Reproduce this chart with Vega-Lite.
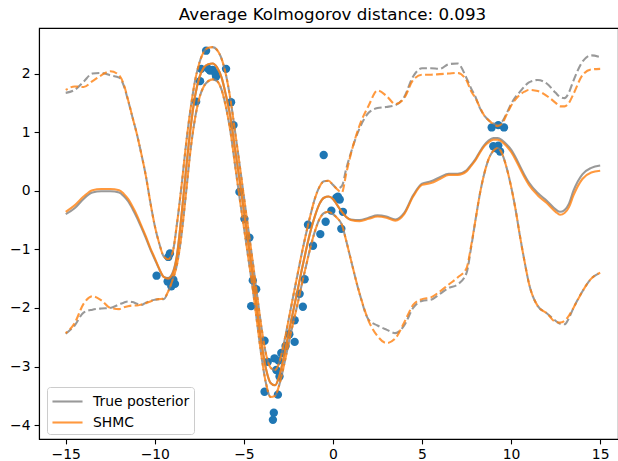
{
  "$schema": "https://vega.github.io/schema/vega-lite/v6.json",
  "autosize": "none",
  "padding": {"left": 39, "top": 28, "right": 0, "bottom": 22},
  "width": 579,
  "height": 411,
  "title": {"text": "Average Kolmogorov distance: 0.093", "font": "DejaVu Sans", "fontSize": 16.7, "fontWeight": "normal", "color": "black", "anchor": "middle", "dx": 4, "offset": -9, "baseline": "alphabetic"},
  "config": {
    "view": {"stroke": "black", "strokeWidth": 1.1},
    "axis": {"grid": false, "domainColor": "black", "domainWidth": 1.1, "tickColor": "black", "tickWidth": 1.1, "tickSize": 4.9, "labelFont": "DejaVu Sans", "labelFontSize": 13.9, "labelColor": "black", "labelPadding": 4, "title": null},
    "legend": {"orient": "none", "legendX": 8, "legendY": 359, "symbolType": "M-1.67,0H1.67", "symbolSize": 324, "symbolStrokeWidth": 2.08, "symbolOpacity": 0.8, "symbolOffset": 6, "labelFont": "DejaVu Sans", "labelFontSize": 13.9, "labelColor": "black", "strokeColor": "#cccccc", "fillColor": "rgba(255,255,255,0.8)", "cornerRadius": 3, "padding": 4, "labelOffset": 15, "rowPadding": 3, "title": null}
  },
  "datasets": {
    "curves": [
      {"x": -15, "tm": -0.40, "tl": -2.44, "tu": 1.67, "sm": -0.36, "sl": -2.43, "su": 1.72},
      {"x": -14.5, "tm": -0.30, "tl": -2.30, "tu": 1.72, "sm": -0.25, "sl": -2.26, "su": 1.78},
      {"x": -14, "tm": -0.14, "tl": -2.08, "tu": 1.86, "sm": -0.10, "sl": -1.93, "su": 1.77},
      {"x": -13.5, "tm": -0.03, "tl": -2.03, "tu": 2.00, "sm": 0.01, "sl": -1.80, "su": 1.87},
      {"x": -13, "tm": -0.01, "tl": -2.01, "tu": 2.01, "sm": 0.03, "sl": -1.87, "su": 1.97},
      {"x": -12.5, "tm": -0.01, "tl": -2.00, "tu": 1.97, "sm": 0.03, "sl": -2.00, "su": 2.04},
      {"x": -12, "tm": -0.03, "tl": -1.94, "tu": 1.93, "sm": 0.01, "sl": -2.02, "su": 1.97},
      {"x": -11.75, "tm": -0.09, "tl": -1.91, "tu": 1.80, "sm": -0.05, "sl": -1.99, "su": 1.82},
      {"x": -11.5, "tm": -0.18, "tl": -1.89, "tu": 1.54, "sm": -0.14, "sl": -1.97, "su": 1.55},
      {"x": -11.25, "tm": -0.31, "tl": -1.90, "tu": 1.25, "sm": -0.27, "sl": -1.96, "su": 1.25},
      {"x": -11, "tm": -0.46, "tl": -1.93, "tu": 0.96, "sm": -0.42, "sl": -1.96, "su": 0.96},
      {"x": -10.75, "tm": -0.63, "tl": -1.95, "tu": 0.62, "sm": -0.60, "sl": -1.94, "su": 0.62},
      {"x": -10.5, "tm": -0.81, "tl": -1.91, "tu": 0.25, "sm": -0.78, "sl": -1.92, "su": 0.25},
      {"x": -10.25, "tm": -1.00, "tl": -1.88, "tu": -0.20, "sm": -0.98, "sl": -1.89, "su": -0.20},
      {"x": -10, "tm": -1.17, "tl": -1.86, "tu": -0.60, "sm": -1.15, "sl": -1.86, "su": -0.60},
      {"x": -9.75, "tm": -1.34, "tl": -1.85, "tu": -0.90, "sm": -1.33, "sl": -1.85, "su": -0.90},
      {"x": -9.5, "tm": -1.47, "tl": -1.85, "tu": -1.12, "sm": -1.47, "sl": -1.84, "su": -1.12},
      {"x": -9.25, "tm": -1.49, "tl": -1.72, "tu": -1.17, "sm": -1.50, "sl": -1.72, "su": -1.17},
      {"x": -9, "tm": -1.40, "tl": -1.52, "tu": -1.05, "sm": -1.42, "sl": -1.52, "su": -1.05},
      {"x": -8.75, "tm": -1.08, "tl": -1.25, "tu": -0.55, "sm": -1.10, "sl": -1.25, "su": -0.55},
      {"x": -8.5, "tm": -0.42, "tl": -0.75, "tu": 0.08, "sm": -0.42, "sl": -0.75, "su": 0.08},
      {"x": -8.25, "tm": 0.35, "tl": -0.05, "tu": 0.78, "sm": 0.35, "sl": -0.05, "su": 0.78},
      {"x": -8, "tm": 1.05, "tl": 0.68, "tu": 1.38, "sm": 1.05, "sl": 0.68, "su": 1.38},
      {"x": -7.75, "tm": 1.60, "tl": 1.22, "tu": 1.86, "sm": 1.60, "sl": 1.22, "su": 1.86},
      {"x": -7.5, "tm": 1.93, "tl": 1.58, "tu": 2.18, "sm": 1.93, "sl": 1.58, "su": 2.18},
      {"x": -7.25, "tm": 2.10, "tl": 1.78, "tu": 2.37, "sm": 2.10, "sl": 1.78, "su": 2.37},
      {"x": -7, "tm": 2.16, "tl": 1.87, "tu": 2.44, "sm": 2.16, "sl": 1.87, "su": 2.44},
      {"x": -6.75, "tm": 2.17, "tl": 1.90, "tu": 2.45, "sm": 2.17, "sl": 1.90, "su": 2.45},
      {"x": -6.5, "tm": 2.10, "tl": 1.87, "tu": 2.40, "sm": 2.10, "sl": 1.87, "su": 2.40},
      {"x": -6.25, "tm": 1.93, "tl": 1.72, "tu": 2.25, "sm": 1.93, "sl": 1.72, "su": 2.25},
      {"x": -6, "tm": 1.62, "tl": 1.42, "tu": 1.97, "sm": 1.62, "sl": 1.42, "su": 1.97},
      {"x": -5.75, "tm": 1.25, "tl": 1.00, "tu": 1.55, "sm": 1.25, "sl": 1.00, "su": 1.55},
      {"x": -5.5, "tm": 0.72, "tl": 0.45, "tu": 1.02, "sm": 0.72, "sl": 0.45, "su": 1.02},
      {"x": -5.25, "tm": 0.20, "tl": -0.10, "tu": 0.47, "sm": 0.20, "sl": -0.10, "su": 0.47},
      {"x": -5, "tm": -0.35, "tl": -0.62, "tu": -0.10, "sm": -0.35, "sl": -0.62, "su": -0.10},
      {"x": -4.75, "tm": -0.90, "tl": -1.15, "tu": -0.66, "sm": -0.90, "sl": -1.15, "su": -0.66},
      {"x": -4.5, "tm": -1.45, "tl": -1.68, "tu": -1.22, "sm": -1.45, "sl": -1.68, "su": -1.22},
      {"x": -4.25, "tm": -2.05, "tl": -2.27, "tu": -1.80, "sm": -2.05, "sl": -2.27, "su": -1.80},
      {"x": -4, "tm": -2.62, "tl": -2.85, "tu": -2.36, "sm": -2.62, "sl": -2.85, "su": -2.36},
      {"x": -3.75, "tm": -3.05, "tl": -3.30, "tu": -2.80, "sm": -3.05, "sl": -3.30, "su": -2.80},
      {"x": -3.5, "tm": -3.28, "tl": -3.52, "tu": -3.02, "sm": -3.28, "sl": -3.52, "su": -3.02},
      {"x": -3.25, "tm": -3.32, "tl": -3.50, "tu": -3.06, "sm": -3.32, "sl": -3.50, "su": -3.06},
      {"x": -3, "tm": -3.15, "tl": -3.30, "tu": -2.92, "sm": -3.15, "sl": -3.30, "su": -2.92},
      {"x": -2.75, "tm": -2.82, "tl": -2.98, "tu": -2.60, "sm": -2.82, "sl": -2.98, "su": -2.60},
      {"x": -2.5, "tm": -2.45, "tl": -2.62, "tu": -2.22, "sm": -2.45, "sl": -2.62, "su": -2.22},
      {"x": -2.25, "tm": -2.08, "tl": -2.28, "tu": -1.83, "sm": -2.08, "sl": -2.28, "su": -1.83},
      {"x": -2, "tm": -1.72, "tl": -1.95, "tu": -1.45, "sm": -1.72, "sl": -1.95, "su": -1.45},
      {"x": -1.75, "tm": -1.35, "tl": -1.60, "tu": -1.07, "sm": -1.35, "sl": -1.60, "su": -1.07},
      {"x": -1.5, "tm": -1.00, "tl": -1.27, "tu": -0.72, "sm": -1.00, "sl": -1.27, "su": -0.72},
      {"x": -1.25, "tm": -0.68, "tl": -0.95, "tu": -0.40, "sm": -0.68, "sl": -0.95, "su": -0.40},
      {"x": -1, "tm": -0.42, "tl": -0.68, "tu": -0.12, "sm": -0.42, "sl": -0.68, "su": -0.12},
      {"x": -0.75, "tm": -0.22, "tl": -0.48, "tu": 0.07, "sm": -0.22, "sl": -0.48, "su": 0.07},
      {"x": -0.5, "tm": -0.12, "tl": -0.38, "tu": 0.16, "sm": -0.12, "sl": -0.38, "su": 0.16},
      {"x": -0.25, "tm": -0.10, "tl": -0.36, "tu": 0.17, "sm": -0.10, "sl": -0.36, "su": 0.17},
      {"x": 0, "tm": -0.14, "tl": -0.40, "tu": 0.10, "sm": -0.14, "sl": -0.40, "su": 0.10},
      {"x": 0.25, "tm": -0.25, "tl": -0.47, "tu": 0.04, "sm": -0.25, "sl": -0.47, "su": 0.02},
      {"x": 0.5, "tm": -0.36, "tl": -0.58, "tu": 0.08, "sm": -0.36, "sl": -0.58, "su": -0.03},
      {"x": 0.75, "tm": -0.45, "tl": -0.86, "tu": 0.38, "sm": -0.45, "sl": -0.86, "su": 0.30},
      {"x": 1, "tm": -0.49, "tl": -1.17, "tu": 0.64, "sm": -0.50, "sl": -1.17, "su": 0.62},
      {"x": 1.5, "tm": -0.50, "tl": -1.76, "tu": 1.07, "sm": -0.52, "sl": -1.76, "su": 1.12},
      {"x": 2, "tm": -0.46, "tl": -2.20, "tu": 1.33, "sm": -0.48, "sl": -2.22, "su": 1.45},
      {"x": 2.5, "tm": -0.42, "tl": -2.30, "tu": 1.41, "sm": -0.44, "sl": -2.48, "su": 1.71},
      {"x": 3, "tm": -0.44, "tl": -2.37, "tu": 1.43, "sm": -0.46, "sl": -2.60, "su": 1.62},
      {"x": 3.5, "tm": -0.49, "tl": -2.43, "tu": 1.46, "sm": -0.51, "sl": -2.52, "su": 1.48},
      {"x": 4, "tm": -0.38, "tl": -2.30, "tu": 1.60, "sm": -0.40, "sl": -2.25, "su": 1.58},
      {"x": 4.5, "tm": -0.08, "tl": -2.00, "tu": 1.95, "sm": -0.10, "sl": -1.95, "su": 1.89},
      {"x": 5, "tm": 0.12, "tl": -1.88, "tu": 2.09, "sm": 0.10, "sl": -1.85, "su": 1.98},
      {"x": 5.5, "tm": 0.16, "tl": -1.86, "tu": 2.09, "sm": 0.13, "sl": -1.82, "su": 1.98},
      {"x": 6, "tm": 0.23, "tl": -1.76, "tu": 2.08, "sm": 0.20, "sl": -1.72, "su": 1.99},
      {"x": 6.5, "tm": 0.29, "tl": -1.66, "tu": 2.16, "sm": 0.27, "sl": -1.60, "su": 2.00},
      {"x": 7, "tm": 0.29, "tl": -1.60, "tu": 2.17, "sm": 0.27, "sl": -1.48, "su": 2.01},
      {"x": 7.5, "tm": 0.35, "tl": -1.40, "tu": 1.92, "sm": 0.33, "sl": -1.32, "su": 1.88},
      {"x": 7.75, "tm": 0.44, "tl": -0.98, "tu": 1.75, "sm": 0.42, "sl": -0.95, "su": 1.70},
      {"x": 8, "tm": 0.54, "tl": -0.50, "tu": 1.60, "sm": 0.52, "sl": -0.50, "su": 1.58},
      {"x": 8.25, "tm": 0.67, "tl": -0.05, "tu": 1.41, "sm": 0.65, "sl": -0.05, "su": 1.42},
      {"x": 8.5, "tm": 0.78, "tl": 0.30, "tu": 1.28, "sm": 0.76, "sl": 0.30, "su": 1.28},
      {"x": 8.75, "tm": 0.86, "tl": 0.55, "tu": 1.20, "sm": 0.83, "sl": 0.55, "su": 1.20},
      {"x": 9, "tm": 0.90, "tl": 0.68, "tu": 1.15, "sm": 0.87, "sl": 0.68, "su": 1.14},
      {"x": 9.25, "tm": 0.90, "tl": 0.73, "tu": 1.12, "sm": 0.87, "sl": 0.73, "su": 1.10},
      {"x": 9.5, "tm": 0.86, "tl": 0.63, "tu": 1.18, "sm": 0.83, "sl": 0.63, "su": 1.15},
      {"x": 9.75, "tm": 0.79, "tl": 0.39, "tu": 1.32, "sm": 0.76, "sl": 0.39, "su": 1.30},
      {"x": 10, "tm": 0.70, "tl": 0.07, "tu": 1.48, "sm": 0.66, "sl": 0.07, "su": 1.45},
      {"x": 10.25, "tm": 0.57, "tl": -0.32, "tu": 1.60, "sm": 0.53, "sl": -0.32, "su": 1.56},
      {"x": 10.5, "tm": 0.42, "tl": -0.78, "tu": 1.69, "sm": 0.38, "sl": -0.78, "su": 1.64},
      {"x": 10.75, "tm": 0.27, "tl": -1.20, "tu": 1.78, "sm": 0.23, "sl": -1.20, "su": 1.69},
      {"x": 11, "tm": 0.14, "tl": -1.58, "tu": 1.85, "sm": 0.10, "sl": -1.58, "su": 1.72},
      {"x": 11.5, "tm": -0.04, "tl": -1.97, "tu": 1.89, "sm": -0.08, "sl": -1.97, "su": 1.70},
      {"x": 12, "tm": -0.17, "tl": -2.09, "tu": 1.83, "sm": -0.21, "sl": -2.09, "su": 1.62},
      {"x": 12.5, "tm": -0.32, "tl": -2.22, "tu": 1.67, "sm": -0.36, "sl": -2.24, "su": 1.50},
      {"x": 12.75, "tm": -0.36, "tl": -2.27, "tu": 1.60, "sm": -0.41, "sl": -2.25, "su": 1.44},
      {"x": 13, "tm": -0.33, "tl": -2.28, "tu": 1.58, "sm": -0.38, "sl": -2.22, "su": 1.44},
      {"x": 13.25, "tm": -0.22, "tl": -2.17, "tu": 1.68, "sm": -0.28, "sl": -2.13, "su": 1.50},
      {"x": 13.5, "tm": 0.00, "tl": -2.00, "tu": 1.88, "sm": -0.08, "sl": -2.00, "su": 1.65},
      {"x": 14, "tm": 0.28, "tl": -1.72, "tu": 2.20, "sm": 0.20, "sl": -1.72, "su": 1.97},
      {"x": 14.5, "tm": 0.39, "tl": -1.50, "tu": 2.31, "sm": 0.31, "sl": -1.50, "su": 2.07},
      {"x": 15, "tm": 0.43, "tl": -1.40, "tu": 2.28, "sm": 0.34, "sl": -1.40, "su": 2.08}
    ],
    "obs": [
      {"x": -9.9, "y": -1.45}, {"x": -9.15, "y": -1.07}, {"x": -9.24, "y": -1.13}, {"x": -9.28, "y": -1.55},
      {"x": -8.96, "y": -1.52}, {"x": -8.87, "y": -1.59}, {"x": -9.07, "y": -1.63},
      {"x": -7.12, "y": 2.39}, {"x": -7.4, "y": 2.08}, {"x": -6.75, "y": 2.06}, {"x": -6.0, "y": 2.08},
      {"x": -7.46, "y": 1.87}, {"x": -6.56, "y": 1.95}, {"x": -7.68, "y": 1.52}, {"x": -5.72, "y": 1.51},
      {"x": -5.58, "y": 1.12}, {"x": -5.25, "y": -0.02}, {"x": -4.97, "y": -0.48}, {"x": -6.9, "y": 2.05},
      {"x": -6.6, "y": 2.0}, {"x": -7.0, "y": 2.08},
      {"x": -4.69, "y": -0.8}, {"x": -4.5, "y": -1.53}, {"x": -4.31, "y": -1.68}, {"x": -4.59, "y": -1.97},
      {"x": -3.84, "y": -2.56}, {"x": -3.66, "y": -2.92}, {"x": -3.28, "y": -2.86}, {"x": -3.18, "y": -3.06},
      {"x": -3.0, "y": -3.17}, {"x": -3.84, "y": -3.43}, {"x": -3.09, "y": -3.48}, {"x": -3.32, "y": -3.79},
      {"x": -3.37, "y": -3.91}, {"x": -2.66, "y": -2.65}, {"x": -2.15, "y": -2.58}, {"x": -2.15, "y": -2.21},
      {"x": -1.69, "y": -1.98}, {"x": -1.87, "y": -1.76}, {"x": -1.59, "y": -1.51}, {"x": -1.12, "y": -0.94},
      {"x": -0.71, "y": -0.74}, {"x": -1.4, "y": -0.58}, {"x": -0.41, "y": -0.53}, {"x": -2.9, "y": -2.77},
      {"x": -2.45, "y": -2.45}, {"x": -3.05, "y": -2.9},
      {"x": -0.52, "y": 0.61}, {"x": 0.19, "y": -0.12}, {"x": 0.28, "y": -0.1}, {"x": 0.38, "y": -0.15},
      {"x": -0.09, "y": -0.34}, {"x": 0.56, "y": -0.36}, {"x": 0.47, "y": -0.65},
      {"x": 8.91, "y": 1.08}, {"x": 9.28, "y": 1.12}, {"x": 9.6, "y": 1.08}, {"x": 9.0, "y": 0.76},
      {"x": 9.28, "y": 0.77}, {"x": 9.38, "y": 0.67}, {"x": 9.15, "y": 0.73}, {"x": 9.2, "y": 0.72}
    ]
  },
  "layer": [
    {
      "data": {"name": "obs"},
      "mark": {"type": "point", "filled": true, "size": 70, "opacity": 1, "color": "#1f77b4"},
      "encoding": {
        "x": {"field": "x", "type": "quantitative", "scale": {"domain": [-16.5, 16.0], "nice": false, "zero": false}, "axis": {"values": [-15, -10, -5, 0, 5, 10, 15], "format": "d"}},
        "y": {"field": "y", "type": "quantitative", "scale": {"domain": [-4.237, 2.777], "nice": false, "zero": false}, "axis": {"values": [-4, -3, -2, -1, 0, 1, 2], "format": "d"}}
      }
    },
    {
      "data": {"name": "curves"},
      "mark": {"type": "line", "interpolate": "monotone", "strokeWidth": 2.08, "opacity": 0.8},
      "encoding": {
        "x": {"field": "x", "type": "quantitative"},
        "y": {"field": "tm", "type": "quantitative"},
        "color": {"datum": "True posterior", "scale": {"domain": ["True posterior", "SHMC"], "range": ["#808080", "#ff7f0e"]}}
      }
    },
    {
      "data": {"name": "curves"},
      "mark": {"type": "line", "interpolate": "monotone", "strokeWidth": 2.08, "opacity": 0.8, "color": "#808080", "strokeDash": [7.7, 3.3]},
      "encoding": {"x": {"field": "x", "type": "quantitative"}, "y": {"field": "tu", "type": "quantitative"}}
    },
    {
      "data": {"name": "curves"},
      "mark": {"type": "line", "interpolate": "monotone", "strokeWidth": 2.08, "opacity": 0.8, "color": "#808080", "strokeDash": [7.7, 3.3]},
      "encoding": {"x": {"field": "x", "type": "quantitative"}, "y": {"field": "tl", "type": "quantitative"}}
    },
    {
      "data": {"name": "curves"},
      "mark": {"type": "line", "interpolate": "monotone", "strokeWidth": 2.08, "opacity": 0.8},
      "encoding": {
        "x": {"field": "x", "type": "quantitative"},
        "y": {"field": "sm", "type": "quantitative"},
        "color": {"datum": "SHMC"}
      }
    },
    {
      "data": {"name": "curves"},
      "mark": {"type": "line", "interpolate": "monotone", "strokeWidth": 2.08, "opacity": 0.8, "color": "#ff7f0e", "strokeDash": [7.7, 3.3], "strokeDashOffset": 5.5},
      "encoding": {"x": {"field": "x", "type": "quantitative"}, "y": {"field": "su", "type": "quantitative"}}
    },
    {
      "data": {"name": "curves"},
      "mark": {"type": "line", "interpolate": "monotone", "strokeWidth": 2.08, "opacity": 0.8, "color": "#ff7f0e", "strokeDash": [7.7, 3.3], "strokeDashOffset": 5.5},
      "encoding": {"x": {"field": "x", "type": "quantitative"}, "y": {"field": "sl", "type": "quantitative"}}
    }
  ]
}
